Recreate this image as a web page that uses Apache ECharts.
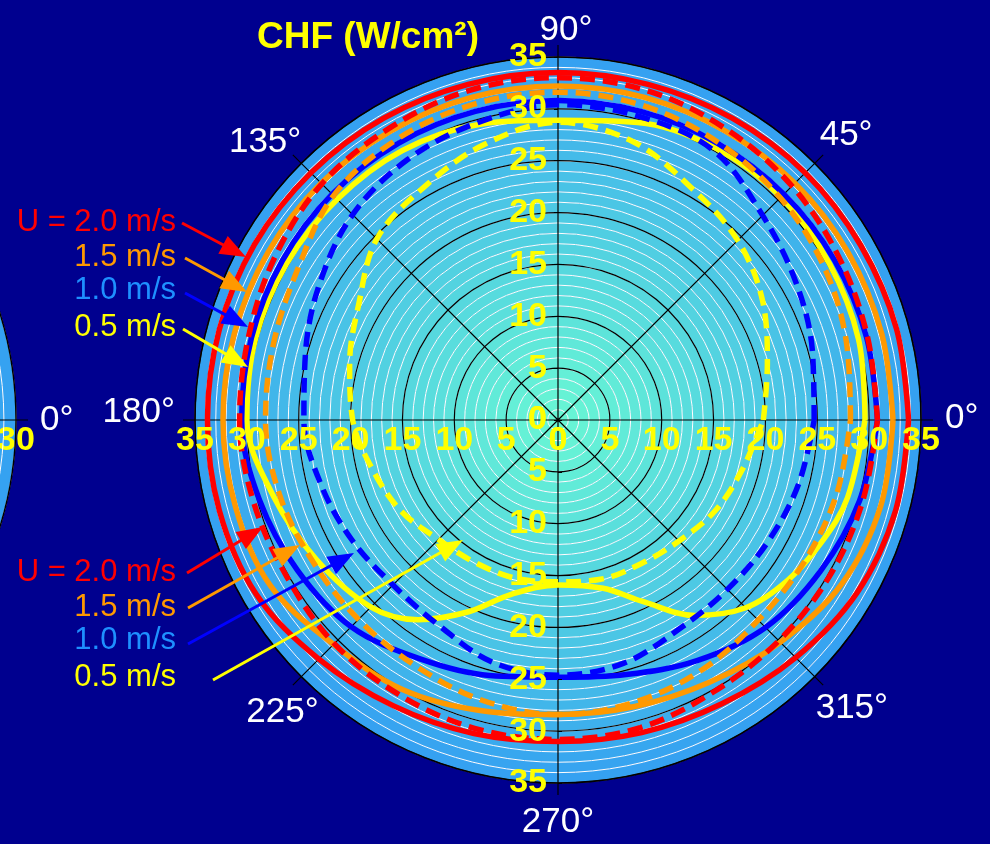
<!DOCTYPE html>
<html>
<head>
<meta charset="utf-8">
<script src="https://cdn.jsdelivr.net/npm/echarts@6/dist/echarts.min.js"></script>
<style>
html,body{margin:0;padding:0;background:#00008F;}
#chart{width:990px;height:844px;}
</style>
</head>
<body>
<div id="chart"></div>
<script>
// ---------------- DATA ----------------
const angles = [0,15,30,45,60,75,90,105,120,135,150,165,180,195,210,225,240,255,270,285,300,315,330,345,360];
const yellowSolidAngles = [0,15,30,45,60,75,90,105,120,135,150,165,180,195,210,225,235,245,255,270,285,295,305,315,325,335,345,360];

// CHF (W/cm2) – solid curves
const red20Solid    = [33.8,33.8,33.7,33.7,33.6,33.5,33.5,33.5,33.6,33.7,33.8,33.8,33.8,33.8,33.6,32.6,31.8,31.3,31.0,31.2,31.6,32.4,33.3,33.7,33.8];
const orange15Solid = [32.3,32.3,32.3,32.3,32.2,32.2,32.2,32.2,32.2,32.3,32.3,32.3,32.3,32.2,32.0,30.6,30.0,29.0,28.4,28.6,29.2,30.3,31.6,32.2,32.3];
const blue10Solid   = [30.8,30.8,30.8,30.8,30.8,30.8,30.8,30.8,30.8,30.8,30.7,30.6,30.5,29.8,29.0,28.2,26.6,25.5,24.8,25.4,26.8,28.3,29.2,30.1,30.8];
const yellow05Solid = [29.6,30.0,30.2,30.4,30.3,29.7,28.9,29.5,30.0,30.1,30.2,30.2,30.0,28.4,26.9,25.5,23.5,20.4,17.4,15.9,16.8,19.3,23.0,25.6,27.0,28.0,28.9,29.6];
// CHF (W/cm2) – dashed curves
const red20Dashed    = [30.8,30.9,31.3,31.9,32.4,32.9,33.0,32.9,32.5,32.2,31.5,30.9,30.7,30.4,30.2,30.5,30.6,30.8,30.8,30.7,30.2,30.1,30.2,30.4,30.8];
const orange15Dashed = [28.2,28.8,29.6,30.3,30.9,31.4,31.6,31.5,31.2,30.6,29.0,28.4,28.2,27.8,27.3,27.2,27.4,28.0,28.4,28.2,27.8,27.3,27.4,27.8,28.2];
const blue10Dashed   = [24.7,25.4,26.5,27.9,30.0,30.3,30.4,29.7,29.0,28.0,26.5,25.2,24.5,23.7,23.0,22.5,22.9,24.2,24.6,24.3,23.3,23.1,23.4,24.0,24.7];
const yellow05Dashed = [19.8,20.9,22.8,24.5,25.8,27.8,28.7,27.5,25.9,24.7,22.2,20.8,19.8,18.5,17.5,16.3,15.9,15.8,15.6,15.9,16.0,16.5,17.5,18.4,19.8];

const speedLabels = ['U = 2.0 m/s','1.5 m/s','1.0 m/s','0.5 m/s'];
const angleTicks = [0,45,90,135,180,225,270,315];
const radiusMax = 35;
const leftChartMax = 30;
const titleText = 'CHF (W/cm\u00B2)';

// ---------------- STYLE / LAYOUT ----------------
const FONT = 'Liberation Sans, Arial, sans-serif';
const CX = 558, CY = 420, R = 363;
const LCX = 16 - R;
const lineColors = ['#FF0000','#FF9900','#0000FF','#FFFF00'];
const textColors = ['#FF0000','#FF9900','#1E90FF','#FFFF00'];

function ringColors(n){
  const c0=[104,246,212], c1=[52,160,242];
  const out=[];
  for(let i=0;i<n;i++){
    const t=Math.pow((i+0.5)/n,1.2);
    const c=c0.map((v,k)=>Math.round(v+(c1[k]-v)*t));
    out.push('rgb('+c.join(',')+')');
  }
  return out;
}

// per-label padding [top,right,bottom,left] for angle labels
const angleLabelPad = {
  0:[0,0,4,24], 45:[0,0,10,5], 90:[0,0,9,16], 135:[0,0,3,0],
  180:[0,20,16,0], 225:[18,0,0,0], 270:[22,0,0,0], 315:[14,0,0,1]
};
const angleRich = {};
angleTicks.forEach(a=>{
  angleRich['a'+a] = {color:'#fff', fontSize:35, fontFamily:FONT, padding:angleLabelPad[a]};
});
angleRich['a225'].width = 55; angleRich['a225'].align = 'left';

function hiddenAngle(idx, startAngle){
  return {polarIndex:idx,type:'value',min:0,max:360,startAngle:startAngle,clockwise:false,show:false};
}
function labelRadius(idx, labelOpt, tickOpt){
  return {polarIndex:idx,type:'value',min:0,max:radiusMax,interval:5,z:6,
    axisLine:{show:false},splitLine:{show:false},splitArea:{show:false},
    axisTick:tickOpt,
    axisLabel:Object.assign({show:true,color:'#FFFF00',fontWeight:'bold',fontSize:34,fontFamily:FONT},labelOpt)};
}

// 0 area, 1 black grid + angle axis, 2-5 radius labels, 6 left chart area, 7 white rings, 8 left chart white rings
const polars = [0,1,2,3,4,5].map(()=>({center:[CX,CY],radius:R}))
  .concat([{center:[LCX,CY],radius:R},{center:[CX,CY],radius:R},{center:[LCX,CY],radius:R}]);

const angleAxes = [
  hiddenAngle(0,0),
  {polarIndex:1,type:'value',min:0,max:360,interval:45,startAngle:0,clockwise:false,z:2,
    axisLine:{show:true,lineStyle:{color:'#000',width:1.5}},
    axisTick:{show:true,length:12,lineStyle:{color:'#000',width:1.2}},
    splitLine:{show:true,lineStyle:{color:'#000',width:1.2}},
    axisLabel:{show:true,margin:0,color:'#fff',fontSize:35,fontFamily:FONT,
      formatter:v=>v>=360?'':'{a'+v+'|'+v+'\u00B0}',rich:angleRich}},
  hiddenAngle(2,0), hiddenAngle(3,90), hiddenAngle(4,180), hiddenAngle(5,270),
  {polarIndex:6,type:'value',min:0,max:360,interval:45,startAngle:0,clockwise:false,z:2,
    axisLine:{show:true,lineStyle:{color:'#000',width:1.5}},
    axisTick:{show:true,length:12,lineStyle:{color:'#000',width:1.2}},
    splitLine:{show:true,lineStyle:{color:'#000',width:1.2}},
    axisLabel:{show:true,margin:24,color:'#fff',fontSize:35,fontFamily:FONT,
      formatter:v=>v===0?'0\u00B0':''}},
  hiddenAngle(7,0), hiddenAngle(8,0)
];

const radiusAxes = [
  {polarIndex:0,type:'value',min:0,max:radiusMax,interval:1,z:0,
    axisLine:{show:false},axisTick:{show:false},axisLabel:{show:false},
    splitLine:{show:false},
    splitArea:{show:true,areaStyle:{color:ringColors(radiusMax)}}},
  {polarIndex:1,type:'value',min:0,max:radiusMax,interval:5,z:2,
    axisLine:{show:false},axisTick:{show:false},axisLabel:{show:false},
    splitLine:{show:true,lineStyle:{color:'#000',width:1.2}}},
  labelRadius(2,{margin:-4,verticalAlign:'top'},{show:false}),
  labelRadius(3,{margin:11},{show:true,length:4,lineStyle:{color:'#000'}}),
  labelRadius(4,{margin:4},{show:false}),
  labelRadius(5,{margin:-11,align:'right'},{show:true,inside:true,length:4,lineStyle:{color:'#000'}}),
  {polarIndex:6,type:'value',min:0,max:leftChartMax,interval:1,z:0,
    axisLine:{show:false},axisTick:{show:false},
    axisLabel:{show:true,margin:-4,verticalAlign:'top',color:'#FFFF00',fontWeight:'bold',fontSize:34,fontFamily:FONT,
      formatter:v=>v===leftChartMax?String(v):''},
    splitLine:{show:false},
    splitArea:{show:true,areaStyle:{color:ringColors(leftChartMax)}}},
  {polarIndex:7,type:'value',min:0,max:radiusMax,interval:1,z:1,
    axisLine:{show:false},axisTick:{show:false},axisLabel:{show:false},splitArea:{show:false},
    splitLine:{show:true,lineStyle:{color:'#FFFFFF',width:1}}},
  {polarIndex:8,type:'value',min:0,max:leftChartMax,interval:1,z:1,
    axisLine:{show:false},axisTick:{show:false},axisLabel:{show:false},splitArea:{show:false},
    splitLine:{show:true,lineStyle:{color:'#FFFFFF',width:1}}}
];

function curve(name, angs, rs, ci, dashed, z){
  return {
    name:name,type:'line',coordinateSystem:'polar',polarIndex:0,
    data:rs.map((r,i)=>[r,angs[i]]),
    smooth:0.35,symbol:'none',z:z,
    lineStyle:{color:lineColors[ci],width:5.5,type:dashed?[15,8]:'solid',cap:'butt'}
  };
}

const series = [
  curve('0.5 solid',yellowSolidAngles,yellow05Solid,3,false,3),
  curve('1.0 solid',angles,blue10Solid,2,false,3),
  curve('1.5 solid',angles,orange15Solid,1,false,3),
  curve('2.0 solid',angles,red20Solid,0,false,3),
  curve('0.5 dashed',angles,yellow05Dashed,3,true,4),
  curve('1.0 dashed',angles,blue10Dashed,2,true,4),
  curve('1.5 dashed',angles,orange15Dashed,1,true,4),
  curve('2.0 dashed',angles,red20Dashed,0,true,4)
];

// annotation layout (legend-like labels with arrows)
const upperAnn = [
  {ty:222, from:[182,223], to:[246,257]},
  {ty:257, from:[185,258], to:[247,292]},
  {ty:290, from:[185,293], to:[248,327]},
  {ty:327, from:[183,329], to:[248,367]}
];
const lowerAnn = [
  {ty:572, from:[187,573], to:[263,527]},
  {ty:607, from:[188,608], to:[300,545]},
  {ty:640, from:[188,644], to:[354,553]},
  {ty:677, from:[213,680], to:[463,540]}
];
function arrowEls(p1,p2,color){
  const L=26,W=10;
  const dx=p2[0]-p1[0], dy=p2[1]-p1[1], len=Math.hypot(dx,dy);
  const ux=dx/len, uy=dy/len;
  const bx=p2[0]-ux*L, by=p2[1]-uy*L;
  return [
    {type:'line',z:100,shape:{x1:p1[0],y1:p1[1],x2:bx+ux*2,y2:by+uy*2},style:{stroke:color,lineWidth:3}},
    {type:'polygon',z:100,shape:{points:[[p2[0],p2[1]],[bx-uy*W,by+ux*W],[bx+uy*W,by-ux*W]]},style:{fill:color}}
  ];
}
const graphics = [];
[upperAnn, lowerAnn].forEach(group=>{
  group.forEach((a,i)=>{
    graphics.push({type:'text',z:100,x:176,y:a.ty,style:{text:speedLabels[i],fill:textColors[i],
      font:'31px '+FONT,align:'right',verticalAlign:'middle'}});
    arrowEls(a.from,a.to,lineColors[i]).forEach(e=>graphics.push(e));
  });
});

const chart = echarts.init(document.getElementById('chart'),null,{renderer:'canvas'});
chart.setOption({
  backgroundColor:'#00008F',
  animation:false,
  title:{text:titleText,left:252,top:14,textStyle:{color:'#FFFF00',fontSize:37,fontWeight:'bold',fontFamily:FONT}},
  polar:polars,
  angleAxis:angleAxes,
  radiusAxis:radiusAxes,
  series:series,
  graphic:graphics
});
</script>
</body>
</html>
